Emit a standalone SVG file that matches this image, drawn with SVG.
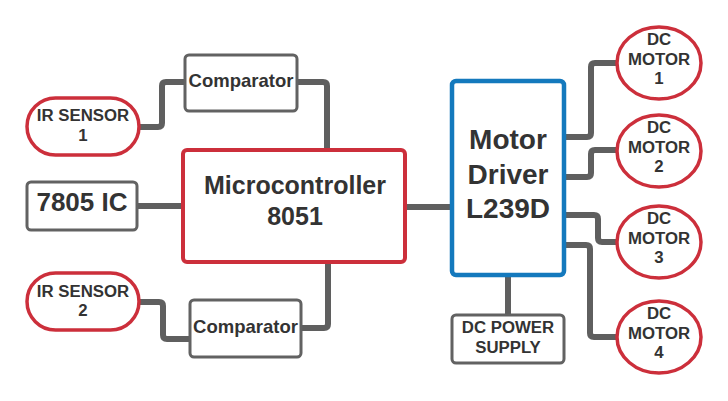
<svg xmlns="http://www.w3.org/2000/svg" width="728" height="401" viewBox="0 0 728 401">
<style>
text{font-family:"Liberation Sans",Arial,sans-serif;font-weight:bold;fill:#333;text-anchor:middle}
.red{fill:#fff;stroke:#cc2f3b;stroke-width:3.5}
.gray{fill:#fff;stroke:#626262;stroke-width:3}
.blue{fill:#fff;stroke:#1479bd;stroke-width:4.5}
.c{fill:none;stroke:#5f5f5f;stroke-width:6;stroke-linejoin:round}
.s{font-size:16.8px}
</style>
<rect width="728" height="401" fill="#fff"/>
<g id="connectors">
<path class="c" d="M139,127 H158 Q162,127 162,123 V86 Q162,82 166,82 H185"/>
<path class="c" d="M297,82 H323 Q327,82 327,86 V150"/>
<path class="c" d="M137,206 H183"/>
<path class="c" d="M139,302 H159 Q163,302 163,306 V335 Q163,339 167,339 H190"/>
<path class="c" d="M301,328 H324 Q328,328 328,324 V262"/>
<path class="c" d="M405,207 H452"/>
<path class="c" d="M564,137 H587 Q591,137 591,133 V67 Q591,63 595,63 H617"/>
<path class="c" d="M564,177 H587 Q591,177 591,173 V154 Q591,150 595,150 H617"/>
<path class="c" d="M564,215 H594 Q598,215 598,219 V238 Q598,242 602,242 H617"/>
<path class="c" d="M564,245 H586 Q590,245 590,249 V333 Q590,337 594,337 H617"/>
<path class="c" d="M508,275 V315"/>
</g>
<g id="ir1"><rect class="red" x="27" y="98" width="112" height="57" rx="28.5"/><text class="s" x="83" y="121">IR SENSOR</text><text class="s" x="83" y="141">1</text></g>
<g id="comp1"><rect class="gray" x="185" y="55" width="112" height="56" rx="4"/><text x="241" y="87" font-size="18.5">Comparator</text></g>
<g id="ic7805"><rect class="gray" x="27" y="182" width="110" height="48" rx="4"/><text x="82" y="211" font-size="26">7805 IC</text></g>
<g id="ir2"><rect class="red" x="27" y="273" width="112" height="57" rx="28.5"/><text class="s" x="83" y="297">IR SENSOR</text><text class="s" x="83" y="316">2</text></g>
<g id="comp2"><rect class="gray" x="190" y="300" width="111" height="57" rx="4"/><text x="245.5" y="333" font-size="18.5">Comparator</text></g>
<g id="micro"><rect x="183" y="150" width="222" height="112" rx="4" fill="#fff" stroke="#cc2f3b" stroke-width="4"/><text x="295" y="194" font-size="25">Microcontroller</text><text x="295" y="225" font-size="25">8051</text></g>
<g id="driver"><rect class="blue" x="452" y="81" width="112" height="194" rx="4"/><text x="508" y="149" font-size="28">Motor</text><text x="508" y="184" font-size="28">Driver</text><text x="508" y="218" font-size="28">L239D</text></g>
<g id="psu"><rect class="gray" x="452" y="315" width="112" height="48" rx="4"/><text class="s" x="508" y="333">DC POWER</text><text class="s" x="508" y="353">SUPPLY</text></g>
<g id="m1"><ellipse class="red" cx="659" cy="63" rx="42" ry="36"/><text class="s" x="659" y="45">DC</text><text class="s" x="659" y="65">MOTOR</text><text class="s" x="659" y="84">1</text></g>
<g id="m2"><ellipse class="red" cx="659" cy="151" rx="42" ry="36"/><text class="s" x="659" y="133">DC</text><text class="s" x="659" y="153">MOTOR</text><text class="s" x="659" y="172">2</text></g>
<g id="m3"><ellipse class="red" cx="659" cy="242" rx="42" ry="36"/><text class="s" x="659" y="224">DC</text><text class="s" x="659" y="244">MOTOR</text><text class="s" x="659" y="263">3</text></g>
<g id="m4"><ellipse class="red" cx="659" cy="337" rx="42" ry="36"/><text class="s" x="659" y="319">DC</text><text class="s" x="659" y="339">MOTOR</text><text class="s" x="659" y="358">4</text></g>
</svg>
